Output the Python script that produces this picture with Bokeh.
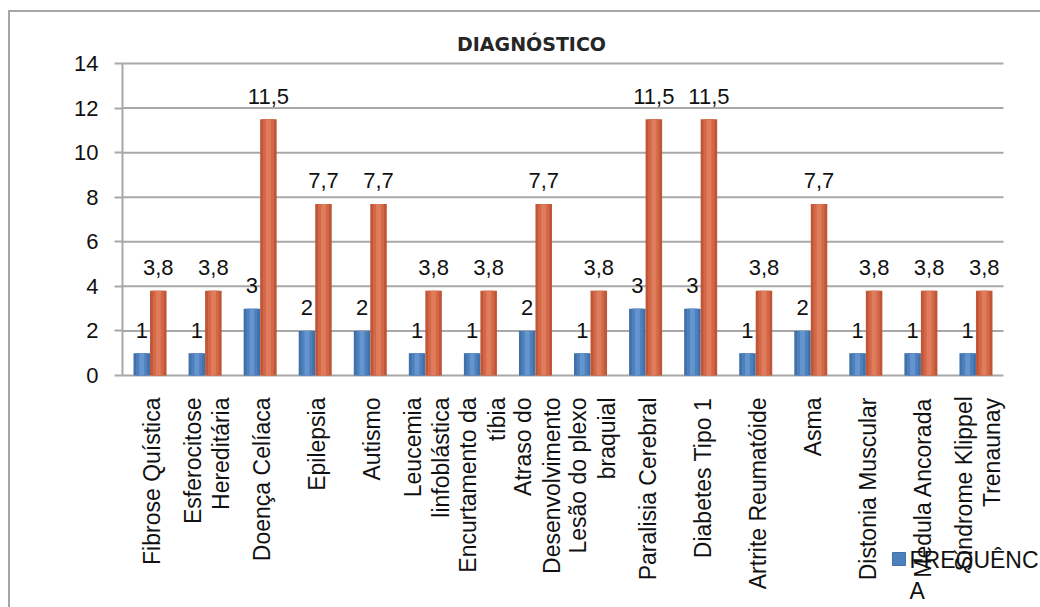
import math
from bokeh.plotting import figure
from bokeh.models import ColumnDataSource, Range1d, FixedTicker
from bokeh.transform import dodge
from bokeh.core.properties import value
from bokeh.embed import file_html
from bokeh.resources import INLINE

# ---------------- data ----------------
categories = [
    "Fibrose Quística", "Esferocitose Hereditária", "Doença Celíaca", "Epilepsia",
    "Autismo", "Leucemia linfoblástica", "Encurtamento da tíbia",
    "Atraso do Desenvolvimento", "Lesão do plexo braquial", "Paralisia Cerebral",
    "Diabetes Tipo 1", "Artrite Reumatóide", "Asma", "Distonia Muscular",
    "Medula Ancorada", "Síndrome Klippel Trenaunay",
]
category_lines = [
    ["Fibrose Quística"], ["Esferocitose", "Hereditária"], ["Doença Celíaca"],
    ["Epilepsia"], ["Autismo"], ["Leucemia", "linfoblástica"],
    ["Encurtamento da", "tíbia"], ["Atraso do", "Desenvolvimento"],
    ["Lesão do plexo", "braquial"], ["Paralisia Cerebral"], ["Diabetes Tipo 1"],
    ["Artrite Reumatóide"], ["Asma"], ["Distonia Muscular"], ["Medula Ancorada"],
    ["Síndrome Klippel", "Trenaunay"],
]
frequencia = [1, 1, 3, 2, 2, 1, 1, 2, 1, 3, 3, 1, 2, 1, 1, 1]
percentual = [3.8, 3.8, 11.5, 7.7, 7.7, 3.8, 3.8, 7.7, 3.8, 11.5, 11.5, 3.8, 7.7, 3.8, 3.8, 3.8]
y_ticks = [0, 2, 4, 6, 8, 10, 12, 14]
title_text = "DIAGNÓSTICO"
legend_text = "FREQUÊNCIA"

# ---------------- geometry (canvas px of the chart area) ----------------
W, H = 1040, 607
FL, FR, FT, FB = 122, 1003, 63, 375
N = len(categories)
YMAX = y_ticks[-1]
PX_X = (FR - FL) / N
PX_Y = (FB - FT) / YMAX

def dx(px):
    return (px - FL) / PX_X

def dy(py):
    return (FB - py) / PX_Y

ARIAL = {' ': 278, ',': 278, '1': 556}
for ch in "abdeghnopqu": ARIAL[ch] = 556
for ch in "cksvxyz": ARIAL[ch] = 500
ARIAL.update({'f': 278, 't': 278, 'i': 222, 'j': 222, 'l': 222, 'm': 833, 'r': 333, 'w': 722,
              'á': 556, 'ã': 556, 'ç': 500, 'í': 278, 'ó': 556, 'ê': 556})
ARIAL.update({'A': 667, 'B': 667, 'C': 722, 'D': 722, 'E': 667, 'F': 611, 'G': 778, 'H': 722,
              'I': 278, 'L': 556, 'M': 833, 'N': 722, 'O': 778, 'P': 667, 'Q': 778, 'R': 722,
              'S': 667, 'T': 611, 'U': 722})

def text_w(s, size):
    return sum(ARIAL.get(c, 556) for c in s) * size / 1000.0

BLUE = ["#4071AB", "#4E80BC", "#6595CE"]
ORANGE = ["#BF5637", "#D36848", "#DF7C5C"]
GRID = "#A8A8A8"
FONT = "Liberation Sans"
TXT = "#111111"

fmt = lambda v: (f"{v:.1f}".replace(".", ",") if isinstance(v, float) else str(v))
src = ColumnDataSource(dict(
    xc=[i + 0.5 for i in range(N)], cat=categories, freq=frequencia, pct=percentual,
    freq_lbl=[fmt(v) for v in frequencia], pct_lbl=[fmt(v) for v in percentual],
))

p = figure(width=W, height=H, x_range=Range1d(dx(FL), dx(W)), y_range=Range1d(dy(H), dy(0)),
           output_backend="svg", toolbar_location=None, x_axis_location=None,
           min_border_left=FL, min_border_right=0, min_border_top=0, min_border_bottom=0)
p.background_fill_color = None
p.border_fill_color = None
p.outline_line_color = None
p.grid.visible = False
p.styles = {
    "background-image": "linear-gradient(#A6A6A6,#A6A6A6), linear-gradient(#A6A6A6,#A6A6A6)",
    "background-size": "2px 100%, 100% 2px",
    "background-position": "8px 10px, 8px 10px",
    "background-repeat": "no-repeat",
    "background-color": "white",
}

# y axis (real axis, limited to the value range)
ya = p.yaxis[0]
ya.bounds = (0, YMAX)
ya.ticker = FixedTicker(ticks=y_ticks)
ya.major_label_text_font = FONT
ya.major_label_text_font_size = "22px"
ya.major_label_text_color = TXT
ya.major_label_standoff = 16
ya.major_tick_out = 8
ya.major_tick_in = 0
ya.minor_tick_line_color = None
ya.axis_line_color = GRID
ya.axis_line_width = 2
ya.major_tick_line_color = GRID
ya.major_tick_line_width = 2

# horizontal grid lines and base line
p.segment(x0=0, x1=N, y0=y_ticks, y1=y_ticks, line_color=GRID, line_width=2)

# bars with a simple cylinder-like shading
for off, vals, cols in ((-0.15, "freq", BLUE), (0.15, "pct", ORANGE)):
    xs = dodge("xc", off)
    p.vbar(x=xs, top=vals, bottom=0, width=0.30, source=src, fill_color=cols[0], line_color=None)
    p.vbar(x=xs, top=vals, bottom=0, width=0.20, source=src, fill_color=cols[1], line_color=None)
    p.vbar(x=xs, top=vals, bottom=0, width=0.09, source=src, fill_color=cols[2], line_color=None)

# value labels
for off, vals, lbl in ((-0.15, "freq", "freq_lbl"), (0.15, "pct", "pct_lbl")):
    p.text(x=dodge("xc", off), y=vals, text=lbl, source=src,
           text_align="center", text_baseline="middle", y_offset=-23,
           text_font=value(FONT), text_font_size="22px", text_color=TXT)

# category labels (rotated, lines centred on each other)
LSZ = 23
lx, lxo, lyo, lt = [], [], [], []
for i, lines in enumerate(category_lines):
    n = len(lines)
    for k, line in enumerate(lines):
        lx.append(i + 0.5)
        lxo.append((k - (n - 1) / 2) * 28.3 + 2)
        lyo.append(22 + text_w(line, LSZ) / 2)
        lt.append(line)
p.text(x=lx, y=0, text=lt, x_offset=lxo, y_offset=lyo, angle=math.pi / 2,
       text_align="center", text_baseline="middle",
       text_font=value(FONT), text_font_size=f"{LSZ}px", text_color=TXT)

# title
p.text(x=[dx(531)], y=[dy(43)], text=[title_text], text_align="center",
       text_baseline="middle", text_font=value("DejaVu Sans"), text_font_style="bold",
       text_font_size="19px", text_color="#262626")

# legend entry (partly outside the picture, as in the original)
p.rect(x=[dx(898.5)], y=[dy(558.5)], width=13, height=13, width_units="screen",
       height_units="screen", fill_color=BLUE[1], line_color=BLUE[0])
p.text(x=[dx(909)], y=[dy(546)], text=[legend_text[:-1] + "\n" + legend_text[-1]],
       text_align="left", text_baseline="top", text_line_height=1.2,
       text_font=value(FONT), text_font_size="23px", text_color=TXT)

open("out.html", "w").write(file_html(p, INLINE))
